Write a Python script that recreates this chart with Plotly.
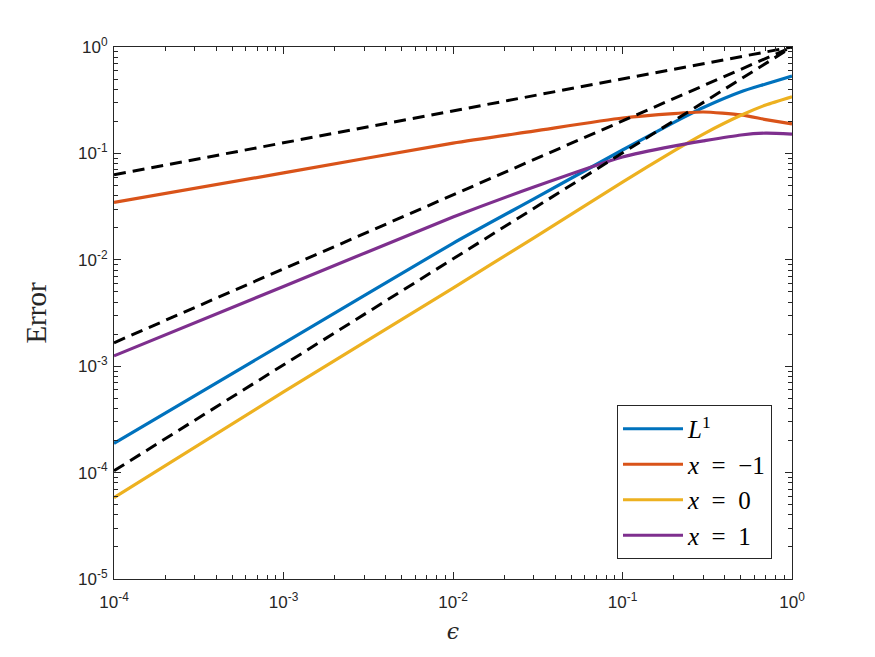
import plotly.graph_objects as go

# ---------------- data ----------------
eps = [1e-4, 1e-3, 1e-2, 3e-2, 1e-1, 2e-1, 3e-1, 5e-1, 7e-1, 1.0]
err_L1 = [1.88e-4, 1.64e-3, 0.0143, 0.0374, 0.1076, 0.195, 0.27, 0.38, 0.449, 0.534]
err_xm1 = [0.0347, 0.0655, 0.125, 0.162, 0.215, 0.237, 0.245, 0.23, 0.208, 0.189]
err_x0 = [5.81e-5, 5.73e-4, 5.43e-3, 0.0161, 0.0538, 0.105, 0.152, 0.228, 0.285, 0.341]
err_x1 = [1.25e-3, 5.61e-3, 0.0252, 0.0483, 0.0925, 0.117, 0.131, 0.149, 0.155, 0.152]

ref_eps = [1e-4, 1.0]
ref_a = [0.063, 1.0]
ref_b = [1.66e-3, 1.0]
ref_c = [1.04e-4, 1.0]

series_names = ["<i>L</i><sup>1</sup>", "<i>x</i>\u2002=\u2002\u22121",
                "<i>x</i>\u2002=\u20020", "<i>x</i>\u2002=\u20021"]
series_vals = [err_L1, err_xm1, err_x0, err_x1]
colors = ["#0072BD", "#D95319", "#EDB120", "#7E2F8E"]

xtick_vals = [1e-4, 1e-3, 1e-2, 1e-1, 1.0]
xtick_text = ["10<sup>-4</sup>", "10<sup>-3</sup>", "10<sup>-2</sup>",
              "10<sup>-1</sup>", "10<sup>0</sup>"]
ytick_vals = [1e-5, 1e-4, 1e-3, 1e-2, 1e-1, 1.0]
ytick_text = ["10<sup>-5</sup>", "10<sup>-4</sup>", "10<sup>-3</sup>",
              "10<sup>-2</sup>", "10<sup>-1</sup>", "10<sup>0</sup>"]

# ---------------- figure ----------------
fig = go.Figure()
for name, vals, col in zip(series_names, series_vals, colors):
    fig.add_trace(go.Scatter(x=eps, y=vals, mode="lines", name=name,
                             line=dict(color=col, width=3.2, shape="spline", smoothing=0.6)))
for r in [ref_a, ref_b, ref_c]:
    fig.add_trace(go.Scatter(x=ref_eps, y=r, mode="lines", showlegend=False,
                             line=dict(color="black", width=3, dash="12px,7px")))

axis_common = dict(
    type="log", showgrid=False, zeroline=False,
    showline=True, linecolor="#262626", linewidth=1, mirror="allticks",
    ticks="inside", ticklen=7, tickwidth=1, tickcolor="#262626",
    tickfont=dict(family="Liberation Sans, Arial, sans-serif", size=17, color="#262626"),
    minor=dict(ticks="inside", ticklen=4, tickwidth=1, tickcolor="#262626",
               showgrid=False, dtick="D1"),
)

fig.update_layout(
    width=875, height=657,
    margin=dict(l=114, r=83, t=47, b=78),
    paper_bgcolor="white", plot_bgcolor="white",
    xaxis=dict(axis_common, range=[-4, 0], tickvals=xtick_vals, ticktext=xtick_text,
               ticklabelstandoff=8,
               title=dict(text="<i>\u03f5</i>", font=dict(family="DejaVu Serif, serif", size=22, color="#262626"),
                          standoff=12)),
    yaxis=dict(axis_common, range=[-5, 0], tickvals=ytick_vals, ticktext=ytick_text,
               ticklabelstandoff=2,
               title=dict(text="Error", font=dict(family="Liberation Serif, serif", size=29, color="#262626"),
                          standoff=22)),
    legend=dict(x=0.9705, y=0.0376, xanchor="right", yanchor="bottom",
                bgcolor="white", bordercolor="#262626", borderwidth=1,
                font=dict(family="Liberation Serif, serif", size=25, color="black"),
                itemwidth=60, tracegroupgap=0),
    showlegend=True,
)

fig.write_html("out.html")
